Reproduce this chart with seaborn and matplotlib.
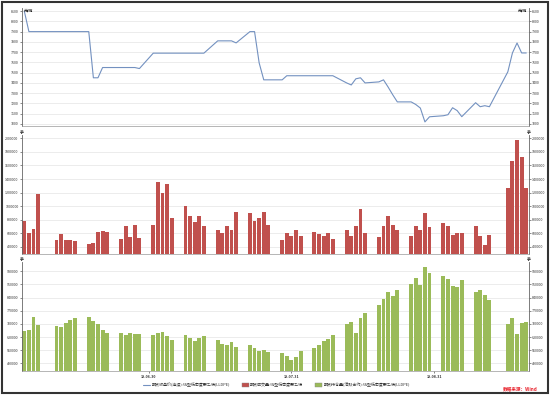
import numpy as np
import pandas as pd
import seaborn as sns
import matplotlib.pyplot as plt
from matplotlib.lines import Line2D
from matplotlib.patches import Patch, Rectangle
from matplotlib.ticker import StrMethodFormatter

# trading days (weekends and 2019 holidays left out -> gaps on a calendar axis)
holidays = ["2019-06-07", "2019-09-13"]
dates = pd.bdate_range("2019-06-03", "2019-09-20")
dates = dates[~dates.isin(pd.to_datetime(holidays))]

close = [8100, 7900, 7900, 7900,
         7900, 7900, 7900, 7900, 7900,
         7900, 7450, 7450, 7550, 7550,
         7550, 7550, 7550, 7550, 7540,
         7690, 7690, 7690, 7690, 7690,
         7690, 7690, 7690, 7690, 7690,
         7810, 7810, 7810, 7810, 7790,
         7900, 7900, 7595, 7430, 7430,
         7430, 7470, 7470, 7470, 7470,
         7470, 7470, 7470, 7470, 7470,
         7400, 7380, 7440, 7450, 7400,
         7410, 7430, 7360, 7285, 7215,
         7215, 7190, 7155, 7020, 7070,
         7080, 7090, 7158, 7130, 7071,
         7207, 7168, 7178, 7168,
         7508, 7692, 7789, 7692, 7692]

volume = [779000, 607000, 656000, 1173000,
          498000, 582000, 498000, 498000, 489000,
          434000, 449000, 612000, 631000, 612000,
          508000, 705000, 543000, 720000, 533000,
          720000, 1360000, 1200000, 1330000, 820000,
          1000000, 860000, 760000, 850000, 700000,
          650000, 600000, 700000, 650000, 920000,
          900000, 780000, 820000, 920000, 720000,
          500000, 600000, 560000, 640000, 560000,
          620000, 590000, 560000, 600000, 520000,
          640000, 560000, 700000, 960000, 600000,
          540000, 700000, 860000, 720000, 640000,
          560000, 700000, 646000, 893000, 686000,
          755000, 705000, 572000, 597000, 607000,
          705000, 562000, 425000, 572000,
          1262000, 1666000, 1976000, 1725000, 1262000]

open_interest = [663000, 666000, 737000, 695000,
                 691000, 682000, 707000, 720000, 730000,
                 737000, 713000, 700000, 666000, 649000,
                 650000, 641000, 649000, 645000, 645000,
                 640000, 650000, 655000, 635000, 615000,
                 640000, 625000, 610000, 625000, 635000,
                 615000, 595000, 590000, 605000, 575000,
                 590000, 570000, 555000, 560000, 550000,
                 545000, 530000, 510000, 525000, 555000,
                 570000, 590000, 610000, 620000, 640000,
                 700000, 710000, 650000, 730000, 760000,
                 800000, 830000, 870000, 850000, 880000,
                 910000, 945000, 908000, 1005000, 969000,
                 953000, 941000, 900000, 896000, 934000,
                 868000, 882000, 855000, 825000,
                 700000, 734000, 647000, 707000, 709000]

tick_dates = ["2019-06-30", "2019-07-31", "2019-08-31"]
tick_labels = ["19-06-30", "19-07-31", "19-08-31"]

labels = ["期货收盘价(连续):线型低密度聚乙烯(LLDPE)",
          "期货成交量:线型低密度聚乙烯",
          "期货持仓量(活跃合约):线型低密度聚乙烯(LLDPE)"]

LINE = "#7391c0"
RED = "#c0504d"
GREEN = "#9bbb59"

start = dates[0]
df = pd.DataFrame({"day": (dates - start).days, "close": close,
                   "volume": volume, "oi": open_interest})
ticks_x = (pd.to_datetime(tick_dates) - start).days

sns.set_theme(style="white")
plt.rcParams["font.family"] = ["Noto Sans CJK SC", "DejaVu Sans"]

fig = plt.figure(figsize=(5.5, 3.95), dpi=100)
ax1 = fig.add_axes([0.04, 0.681, 0.921, 0.2987])
ax2 = fig.add_axes([0.04, 0.3562, 0.921, 0.302])
ax3 = fig.add_axes([0.04, 0.0608, 0.921, 0.276])

sns.lineplot(data=df, x="day", y="close", ax=ax1, color=LINE, linewidth=0.8)
sns.barplot(data=df, x="day", y="volume", ax=ax2, native_scale=True, width=0.84,
            color=RED, saturation=1, errorbar=None, linewidth=0)
sns.barplot(data=df, x="day", y="oi", ax=ax3, native_scale=True, width=0.84,
            color=GREEN, saturation=1, errorbar=None, linewidth=0)

ax1.set_ylim(6980, 8130)
ax1.set_yticks(range(7000, 8101, 100))
ax2.set_ylim(288000, 2050000)
ax2.set_yticks(range(400000, 2000001, 200000))
ax3.set_ylim(449000, 1030000)
ax3.set_yticks(range(490000, 980001, 70000))

for ax in (ax1, ax2, ax3):
    ax.set_xlim(-0.5, 109.5)
    ax.set_xlabel("")
    ax.set_ylabel("")
    ax.yaxis.set_major_formatter(StrMethodFormatter("{x:.0f}"))
    ax.yaxis.grid(True, color="#e4e4e4", linewidth=0.5)
    ax.set_axisbelow(True)
    ax.tick_params(axis="y", labelsize=2.6, length=1.5, width=0.4, pad=1,
                   right=True, labelright=True, left=True, colors="#333333")
    ax.spines["top"].set_visible(False)
    for s in ("left", "right"):
        ax.spines[s].set_color("#666666")
        ax.spines[s].set_linewidth(0.6)
    ax.spines["bottom"].set_color("#999999")
    ax.spines["bottom"].set_linewidth(0.5)

ax1.set_xticks([])
ax2.set_xticks([])
ax3.set_xticks(ticks_x)
ax3.set_xticklabels(tick_labels, fontsize=2.6, fontweight="bold", color="#333333")
ax3.tick_params(axis="x", length=1.5, width=0.4, pad=1.5, bottom=True)

# units at the top of the axes
ax1.text(0.003, 1.0, "元/吨", transform=ax1.transAxes, fontsize=2.8,
         fontweight="bold", ha="left", va="top", color="#222222")
ax1.text(0.997, 1.0, "元/吨", transform=ax1.transAxes, fontsize=2.8,
         fontweight="bold", ha="right", va="top", color="#222222")
for ax in (ax2, ax3):
    ax.text(0.0, 1.0, "手", transform=ax.transAxes, fontsize=2.8,
            fontweight="bold", ha="center", va="bottom", color="#222222")
    ax.text(1.0, 1.0, "手", transform=ax.transAxes, fontsize=2.8,
            fontweight="bold", ha="center", va="bottom", color="#222222")

handles = [Line2D([], [], color=LINE, linewidth=0.8),
           Patch(facecolor=RED, edgecolor="#888888", linewidth=0.3),
           Patch(facecolor=GREEN, edgecolor="#888888", linewidth=0.3)]
fig.legend(handles, labels, loc="center", bbox_to_anchor=(0.503, 0.026), ncol=3,
           frameon=False, fontsize=2.9, handlelength=1.6, handleheight=1.0,
           columnspacing=3.0, handletextpad=0.4, labelcolor="#333333")

fig.text(0.978, 0.017, "数据来源：Wind", color="#e8202a", fontsize=3.3,
         fontweight="bold", style="italic", ha="right", va="center")

fig.add_artist(Rectangle((0.003, 0.004), 0.993, 0.992, transform=fig.transFigure,
                         fill=False, edgecolor="#333333", linewidth=1.5))

fig.savefig("out.png", dpi=100)
